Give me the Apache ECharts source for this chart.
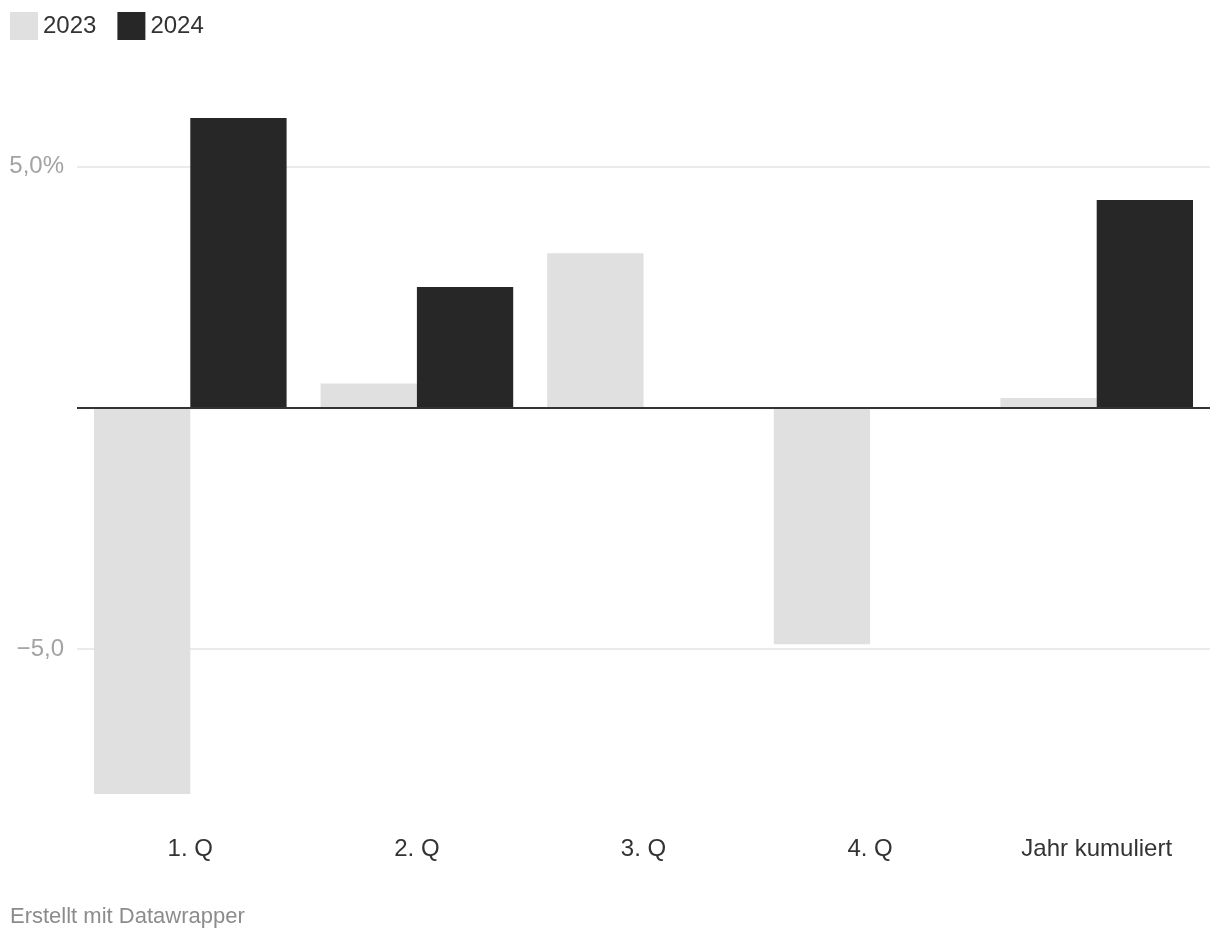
<!DOCTYPE html>
<html>
<head>
<meta charset="utf-8">
<script src="https://cdn.jsdelivr.net/npm/echarts@6/dist/echarts.min.js"></script>
<style>
html,body{margin:0;padding:0;background:#fff;}
#c{width:1220px;height:942px;}
</style>
</head>
<body>
<div id="c"></div>
<script>
const categories = ['1. Q', '2. Q', '3. Q', '4. Q', 'Jahr kumuliert'];
const values2023 = [-8.0, 0.5, 3.2, -4.9, 0.2];
const values2024 = [6.0, 2.5, null, null, 4.3];
const seriesNames = ['2023', '2024'];
const gridValues = [5, -5];
const tickLabels = { '5': '5,0%', '-5': '\u22125,0' };
const footer = 'Erstellt mit Datawrapper';

const FONT = '"Liberation Sans", Arial, sans-serif';
const chart = echarts.init(document.getElementById('c'), null, { renderer: 'canvas' });

chart.setOption({
  animation: false,
  backgroundColor: '#ffffff',
  textStyle: { fontFamily: FONT },
  legend: {
    left: 5, top: 7,
    icon: 'rect',
    itemWidth: 28, itemHeight: 28,
    itemGap: 21,
    textStyle: { fontSize: 24, color: '#333333', fontFamily: FONT },
    data: seriesNames,
    selectedMode: false
  },
  grid: { left: 77, right: 10, top: 118, height: 676, containLabel: false },
  xAxis: {
    type: 'category',
    data: categories,
    position: 'bottom',
    axisLine: { show: false, onZero: false },
    axisTick: { show: false },
    axisLabel: { fontSize: 24, color: '#333333', margin: 43, fontFamily: FONT },
    splitLine: { show: false }
  },
  yAxis: {
    type: 'value',
    min: -8, max: 6, interval: 1,
    axisLine: { show: false },
    axisTick: { show: false },
    splitLine: { show: false },
    axisLabel: {
      fontSize: 24, color: '#a3a3a3', margin: 13, fontFamily: FONT,
      padding: [5, 0, 0, 0],
      formatter: v => tickLabels[String(v)] || ''
    }
  },
  series: [
    {
      name: seriesNames[0],
      type: 'bar',
      data: values2023,
      barGap: '0%',
      barCategoryGap: '15%',
      itemStyle: { color: '#e0e0e0' },
      markLine: {
        z: 1,
        silent: true,
        symbol: 'none',
        label: { show: false },
        lineStyle: { color: '#e3e3e3', width: 1.5, type: 'solid' },
        data: gridValues.map(v => ({ yAxis: v }))
      }
    },
    {
      name: seriesNames[1],
      type: 'bar',
      data: values2024,
      barGap: '0%',
      barCategoryGap: '15%',
      itemStyle: { color: '#272727' },
      markLine: {
        z: 5,
        silent: true,
        symbol: 'none',
        label: { show: false },
        lineStyle: { color: '#333333', width: 2, type: 'solid' },
        data: [{ yAxis: 0 }]
      }
    }
  ],
  graphic: [
    {
      type: 'text', left: 10, top: 906,
      style: { text: footer, fontSize: 22, fill: '#8c8c8c', fontFamily: FONT }
    }
  ]
});
</script>
</body>
</html>
